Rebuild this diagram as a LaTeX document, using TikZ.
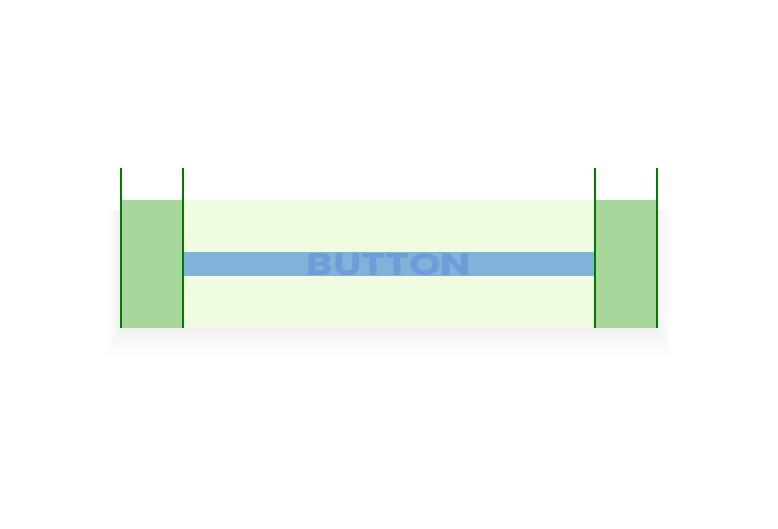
\documentclass[tikz,border=0pt]{standalone}
\usepackage{fontspec}
\newfontfamily\btnfont{Poppins}[BoldFont={* Bold}]
\definecolor{paddingfill}{HTML}{A8D79B}
\definecolor{contentfill}{HTML}{F0FCE0}
\definecolor{bandfill}{HTML}{7FB3D9}
\definecolor{labelblue}{HTML}{6F9CD9}
\definecolor{guide}{HTML}{007A00}

\begin{document}
\begin{tikzpicture}[x=1pt,y=-1pt]
\useasboundingbox[fill=white] (0,0) rectangle (778,528);

%% shadow
\foreach \s in {1,...,14}
  \fill[black,opacity=0.004] (121-\s,210) rectangle (657+\s,328+2*\s);

%% boxes
\fill[contentfill] (183,200) rectangle (595,328);
\fill[paddingfill] (121,200) rectangle (183,328);   %% left
\fill[paddingfill] (595,200) rectangle (657,328);   %% right
\fill[bandfill] (183,252) rectangle (595,276);      %% text line

%% label
\node (label) at (389,264.5) {\scalebox{1.3}[1]{\btnfont\bfseries\fontsize{31}{31}\selectfont\color{labelblue}BUTTON}};

%% guides
\coordinate (g1) at (121,168); \coordinate (h1) at (121,328);
\coordinate (g2) at (183,168); \coordinate (h2) at (183,328);
\coordinate (g3) at (595,168); \coordinate (h3) at (595,328);
\coordinate (g4) at (657,168); \coordinate (h4) at (657,328);
\foreach \i in {1,...,4}
  \draw[guide,line width=1.5pt] (g\i) -- (h\i);
\end{tikzpicture}
\end{document}
